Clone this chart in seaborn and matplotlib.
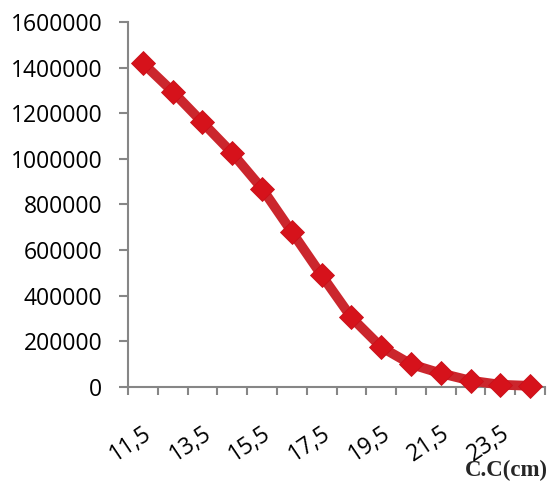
import matplotlib
matplotlib.use("Agg")
import matplotlib.pyplot as plt
from matplotlib.ticker import FixedLocator, FixedFormatter, MultipleLocator, FuncFormatter
import numpy as np
import pandas as pd
import seaborn as sns

# Size classes (cm) and abundance per class
size_class = [11.5, 12.5, 13.5, 14.5, 15.5, 16.5, 17.5,
              18.5, 19.5, 20.5, 21.5, 22.5, 23.5, 24.5]
abundance = [1420000, 1295000, 1160000, 1025000, 870000, 680000, 490000,
             305000, 175000, 100000, 60000, 28000, 10000, 5000]
label_classes = [11.5, 13.5, 15.5, 17.5, 19.5, 21.5, 23.5]
label_text = ["11,5", "13,5", "15,5", "17,5", "19,5", "21,5", "23,5"]

sns.set_style("white")
plt.rcParams["font.family"] = ["Open Sans", "DejaVu Sans"]

df = pd.DataFrame({"cc": size_class, "n": abundance})

fig = plt.figure(figsize=(5.52, 4.87), dpi=100)
ax = fig.add_axes([128 / 552, 1 - 387 / 487, (545 - 128) / 552, (387 - 22) / 487])

sns.lineplot(data=df, x="cc", y="n", ax=ax, color="#CB262D", linewidth=7,
             marker="D", markersize=12.5, markerfacecolor="#D6121B",
             markeredgecolor="#C9101A", markeredgewidth=0.6,
             clip_on=False, zorder=5)

ax.set_xlim(11, 25)
ax.set_ylim(0, 1600000)
ax.yaxis.set_major_locator(MultipleLocator(200000))
ax.yaxis.set_major_formatter(FuncFormatter(lambda v, p: f"{int(v)}"))

# Category boundaries carry the tick marks; labels sit at every other class centre
ax.xaxis.set_major_locator(FixedLocator(np.arange(11, 26, 1)))
ax.xaxis.set_major_formatter(FixedFormatter([""] * 15))
ax.xaxis.set_minor_locator(FixedLocator(label_classes))
ax.xaxis.set_minor_formatter(FixedFormatter(label_text))

gray = "#868686"
for s in ["top", "right"]:
    ax.spines[s].set_visible(False)
for s in ["left", "bottom"]:
    ax.spines[s].set_color(gray)
    ax.spines[s].set_linewidth(1.5)

ax.tick_params(axis="y", which="major", direction="out", length=6.5, width=1.5,
               color=gray, pad=12, labelsize=16.5, labelcolor="black", left=True)
ax.tick_params(axis="x", which="major", direction="out", length=6, width=1.5,
               color=gray, bottom=True)
ax.tick_params(axis="x", which="minor", length=0, pad=25, labelsize=16.5,
               labelcolor="black")
for lbl in ax.xaxis.get_minorticklabels():
    lbl.set_rotation(34)
    lbl.set_ha("right")
    lbl.set_va("top")
    lbl.set_rotation_mode("anchor")

ax.set_xlabel("")
ax.set_ylabel("")
ax.grid(False)

fig.text(548 / 552, 1 - 481 / 487, "C.C(cm)", ha="right", va="bottom",
         fontsize=16.5, fontweight="bold", family=["Liberation Serif", "DejaVu Serif"])

fig.savefig("out.png", dpi=100, facecolor="white")
